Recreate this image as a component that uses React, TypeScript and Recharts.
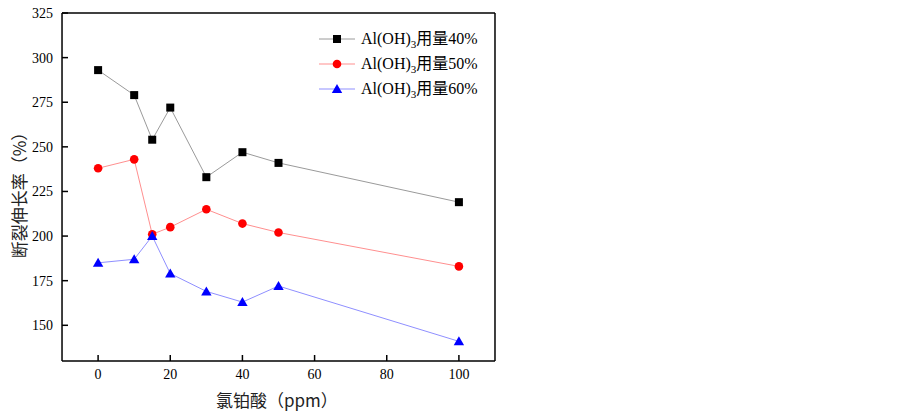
import { Line, LineChart, XAxis, YAxis } from "recharts";

const ppm = [0, 10, 15, 20, 30, 40, 50, 100];
const elong40 = [293, 279, 254, 272, 233, 247, 241, 219];
const elong50 = [238, 243, 201, 205, 215, 207, 202, 183];
const elong60 = [185, 187, 200, 179, 169, 163, 172, 141];

const xTicks = [0, 20, 40, 60, 80, 100];
const xMinorTicks = [0, 10, 20, 30, 40, 50, 60, 70, 80, 90, 100];
const yTicks = [150, 175, 200, 225, 250, 275, 300, 325];
const yMinorTicks = [137.5, 150, 162.5, 175, 187.5, 200, 212.5, 225, 237.5, 250, 262.5, 275, 287.5, 300, 312.5, 325];

const data = ppm.map((x, i) => ({
  x,
  a: elong40[i],
  b: elong50[i],
  c: elong60[i],
}));

const series = [
  { key: "a", pct: "40%", line: "#9a9a9a", mark: "#000000", shape: "square" },
  { key: "b", pct: "50%", line: "#ff8f8f", mark: "#ff0000", shape: "circle" },
  { key: "c", pct: "60%", line: "#8f8fff", mark: "#0000ff", shape: "triangle" },
];

const serif = "'Liberation Serif', 'Times New Roman', 'Noto Sans CJK SC', serif";
const sans = "'Noto Sans CJK SC', 'Noto Sans', sans-serif";
const thin = 0.01; // axes of (almost) zero size so they sit right on the plot edge

function Marker({ cx, cy, shape, fill }: { cx: number; cy: number; shape: string; fill: string }) {
  if (cx == null || cy == null) return null;
  if (shape === "square") return <rect x={cx - 4} y={cy - 4} width={8} height={8} fill={fill} />;
  if (shape === "circle") return <circle cx={cx} cy={cy} r={4.3} fill={fill} />;
  return <polygon points={`${cx},${cy - 5} ${cx + 5.2},${cy + 4} ${cx - 5.2},${cy + 4}`} fill={fill} />;
}

function LegendBox() {
  return (
    <div style={{ fontFamily: serif, fontSize: 16, color: "#000", lineHeight: "25px" }}>
      {series.map((s) => (
        <div key={s.key} style={{ display: "flex", alignItems: "center", height: 25 }}>
          <svg width={36} height={12} style={{ marginRight: 6 }}>
            <line x1={0} y1={6} x2={36} y2={6} stroke={s.line} strokeWidth={1} />
            <Marker cx={18} cy={6} shape={s.shape} fill={s.mark} />
          </svg>
          <span>
            Al(OH)<sub style={{ fontSize: 11, verticalAlign: "-4px", lineHeight: 0 }}>3</sub>用量{s.pct}
          </span>
        </div>
      ))}
    </div>
  );
}

const tickStyle = { fill: "#000", fontSize: 14, fontFamily: serif };
const axisPen = { stroke: "#000", strokeWidth: 1.5 };

export default function App() {
  return (
    <div style={{ position: "absolute", left: 0, top: 0, width: 903, height: 417, background: "#fff" }}>
      <LineChart
        width={903}
        height={417}
        data={data}
        margin={{ top: 13, right: 408, bottom: 56, left: 62 }}
      >
        <XAxis
          dataKey="x"
          type="number"
          domain={[-10, 110]}
          ticks={xTicks}
          height={thin}
          tick={tickStyle}
          tickSize={-6}
          tickMargin={14}
          axisLine={axisPen}
          tickLine={axisPen}
        />
        <XAxis
          xAxisId="minor"
          dataKey="x"
          type="number"
          domain={[-10, 110]}
          ticks={xMinorTicks}
          height={thin}
          tick={false}
          tickSize={-3}
          axisLine={false}
          tickLine={axisPen}
        />
        <XAxis
          xAxisId="top"
          orientation="top"
          dataKey="x"
          type="number"
          domain={[-10, 110]}
          height={thin}
          tick={false}
          tickLine={false}
          axisLine={axisPen}
        />
        <YAxis
          type="number"
          domain={[130, 325]}
          ticks={yTicks}
          width={thin}
          tick={tickStyle}
          tickSize={-6}
          tickMargin={15}
          axisLine={axisPen}
          tickLine={axisPen}
        />
        <YAxis
          yAxisId="minor"
          type="number"
          domain={[130, 325]}
          ticks={yMinorTicks}
          width={thin}
          tick={false}
          tickSize={-3}
          axisLine={false}
          tickLine={axisPen}
        />
        <YAxis
          yAxisId="right"
          orientation="right"
          type="number"
          domain={[130, 325]}
          width={thin}
          tick={false}
          tickLine={false}
          axisLine={axisPen}
        />
        {series.map((s) => (
          <Line
            key={s.key}
            dataKey={s.key}
            type="linear"
            stroke={s.line}
            strokeWidth={1}
            dot={(p: any) => <Marker key={`${s.key}-${p.index}`} cx={p.cx} cy={p.cy} shape={s.shape} fill={s.mark} />}
            activeDot={false}
            isAnimationActive={false}
          />
        ))}
      </LineChart>
      <div style={{ position: "absolute", left: 319, top: 26 }}>
        <LegendBox />
      </div>
      <div
        style={{
          position: "absolute",
          left: 216,
          top: 390,
          fontFamily: sans,
          fontSize: 17,
          color: "#222",
          whiteSpace: "nowrap",
          lineHeight: "20px",
        }}
      >
        氯铂酸（ppm）
      </div>
      <div
        style={{
          position: "absolute",
          left: 19,
          top: 191,
          transform: "translate(-50%, -50%) rotate(-90deg)",
          fontFamily: sans,
          fontSize: 17,
          color: "#222",
          whiteSpace: "nowrap",
          lineHeight: "22px",
        }}
      >
        断裂伸长率（%）
      </div>
    </div>
  );
}
